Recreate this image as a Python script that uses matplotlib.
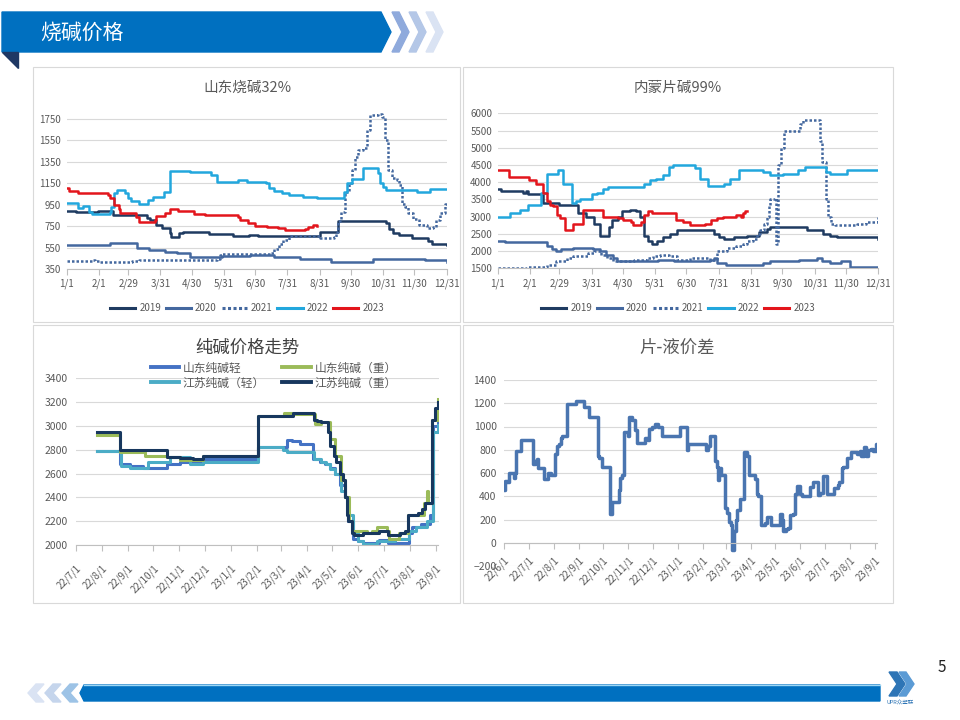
import numpy as np
import pandas as pd
import matplotlib
matplotlib.use("Agg")
import matplotlib.pyplot as plt
from matplotlib.patches import Polygon, Rectangle
from matplotlib.lines import Line2D

plt.rcParams['font.family'] = ['Noto Sans CJK SC', 'DejaVu Sans']

# ---- seasonal axis (day of year, leap-year calendar) ----
season_tick_days = [1, 32, 60, 91, 121, 152, 182, 213, 244, 274, 305, 335, 366]
season_tick_labels = ['1/1', '2/1', '2/29', '3/31', '4/30', '5/31', '6/30',
                      '7/31', '8/31', '9/30', '10/31', '11/30', '12/31']
years = ['2019', '2020', '2021', '2022', '2023']

# 山东烧碱32%  (day, price)
sd32_2019 = [(1, 894), (10, 878), (30, 878), (31, 894), (45, 854), (74, 854), (78, 830), (81, 807),
             (87, 761), (93, 730), (100, 683), (101, 646), (107, 646), (109, 683), (113, 693),
             (138, 674), (161, 661), (176, 670), (185, 658), (244, 700), (262, 801), (306, 801),
             (308, 780), (311, 720), (314, 689), (320, 667), (333, 636), (348, 610), (352, 580),
             (366, 575)]
sd32_2020 = [(1, 575), (43, 590), (69, 550), (80, 530), (95, 510), (107, 500), (119, 465),
             (150, 470), (177, 480), (200, 460), (225, 445), (245, 440), (255, 420), (290, 420),
             (295, 440), (330, 440), (345, 430), (366, 420)]
sd32_2021 = [(1, 425), (25, 435), (28, 425), (33, 412), (64, 425), (70, 432), (145, 440),
             (148, 480), (150, 490), (196, 495), (200, 540), (205, 580), (209, 620), (215, 660),
             (244, 640), (258, 650), (260, 700), (262, 800), (264, 885), (268, 1070), (272, 1150),
             (275, 1270), (278, 1400), (281, 1460), (286, 1480), (289, 1650), (292, 1790),
             (300, 1800), (304, 1770), (307, 1550), (310, 1270), (313, 1200), (318, 1180),
             (320, 1130), (323, 960), (326, 930), (329, 870), (334, 815), (339, 760), (347, 730),
             (353, 745), (356, 810), (360, 870), (364, 960), (366, 970)]
sd32_2022 = [(1, 969), (12, 916), (17, 938), (22, 885), (25, 863), (43, 885), (44, 932),
             (46, 1056), (49, 1087), (57, 1062), (60, 1010), (63, 985), (70, 957), (79, 994),
             (84, 1025), (94, 1072), (100, 1268), (119, 1252), (140, 1227), (145, 1165),
             (166, 1180), (174, 1165), (192, 1150), (195, 1109), (200, 1078), (208, 1062),
             (215, 1040), (228, 1025), (241, 1010), (267, 1072), (270, 1150), (275, 1187),
             (286, 1290), (300, 1243), (302, 1150), (305, 1118), (308, 1087), (337, 1072),
             (350, 1100), (366, 1100)]
sd32_2023 = [(1, 1103), (3, 1081), (12, 1062), (41, 1040), (43, 1010), (46, 947), (51, 910),
             (52, 876), (68, 838), (70, 786), (86, 807), (87, 848), (95, 876), (100, 910),
             (108, 894), (123, 863), (134, 854), (166, 838), (167, 807), (175, 776), (182, 754),
             (193, 745), (204, 730), (211, 714), (230, 723), (233, 745), (238, 761), (241, 754)]

# 内蒙片碱99%  (day, price)
nm99_2019 = [(1, 3800), (4, 3750), (25, 3700), (28, 3750), (30, 3650), (42, 3650), (44, 3400),
             (60, 3350), (78, 3100), (86, 3000), (93, 2800), (99, 2450), (108, 2700), (111, 2900),
             (116, 3000), (120, 3150), (128, 3200), (134, 3150), (137, 3000), (141, 2450),
             (145, 2300), (149, 2200), (154, 2300), (160, 2400), (166, 2500), (173, 2600),
             (208, 2500), (213, 2400), (218, 2350), (228, 2400), (240, 2450), (252, 2550),
             (259, 2650), (262, 2700), (298, 2600), (313, 2500), (320, 2450), (326, 2400),
             (366, 2350)]
nm99_2020 = [(1, 2300), (8, 2250), (45, 2250), (48, 2150), (53, 2050), (57, 2000), (62, 2050),
             (73, 2100), (92, 2050), (99, 2000), (105, 1900), (112, 1800), (115, 1700),
             (150, 1700), (155, 1750), (170, 1700), (205, 1750), (208, 1800), (211, 1650),
             (220, 1600), (255, 1650), (262, 1700), (290, 1750), (307, 1800), (312, 1700),
             (320, 1650), (330, 1700), (339, 1550), (366, 1500)]
nm99_2021 = [(1, 1500), (29, 1550), (48, 1600), (57, 1700), (67, 1800), (73, 1850), (88, 1950),
             (93, 2000), (100, 1900), (106, 1800), (112, 1700), (132, 1750), (144, 1800),
             (150, 1850), (157, 1900), (165, 1850), (173, 1750), (185, 1800), (205, 1750),
             (211, 2000), (221, 2100), (230, 2150), (236, 2200), (240, 2300), (246, 2350),
             (250, 2500), (253, 2600), (256, 2800), (259, 3000), (261, 3300), (262, 3500),
             (267, 3550), (268, 2200), (270, 4500), (273, 5000), (276, 5500), (288, 5500),
             (291, 5700), (294, 5800), (308, 5800), (310, 5200), (312, 4600), (316, 3500),
             (318, 3000), (321, 2800), (324, 2750), (342, 2750), (346, 2800), (354, 2850),
             (366, 3000)]
nm99_2022 = [(1, 3000), (13, 3100), (22, 3200), (30, 3350), (43, 3700), (48, 4250), (59, 4350),
             (64, 3950), (72, 3400), (76, 3450), (80, 3500), (91, 3650), (96, 3700), (102, 3800),
             (107, 3850), (141, 3950), (147, 4050), (153, 4100), (160, 4200), (165, 4450),
             (169, 4500), (190, 4400), (195, 4100), (203, 3900), (218, 3950), (224, 4100),
             (232, 4350), (255, 4300), (262, 4200), (275, 4250), (289, 4350), (296, 4450),
             (316, 4300), (320, 4250), (336, 4350), (366, 4350)]
nm99_2023 = [(1, 4350), (12, 4150), (31, 4050), (38, 3950), (44, 3700), (48, 3450), (51, 3350),
             (54, 3300), (58, 3050), (61, 2950), (66, 2600), (73, 2800), (83, 3200), (102, 3000),
             (116, 2950), (121, 2900), (129, 2850), (131, 2750), (138, 2850), (141, 3050),
             (145, 3150), (149, 3100), (172, 2900), (179, 2850), (185, 2750), (200, 2800),
             (206, 2900), (211, 2950), (217, 3000), (230, 3050), (234, 3000), (236, 3100),
             (238, 3150), (240, 3150)]

# 纯碱价格走势  (days since 2022-07-01, price)
soda_start = '2022-07-01'
soda_names = ['山东纯碱轻', '江苏纯碱（轻）', '山东纯碱（重）', '江苏纯碱（重）']
sd_light = [(25, 2790), (53, 2680), (64, 2660), (80, 2650), (108, 2680), (124, 2700), (151, 2720),
            (216, 2820), (250, 2880), (256, 2870), (266, 2850), (281, 2720), (289, 2700),
            (295, 2680), (301, 2650), (307, 2600), (313, 2500), (319, 2400), (323, 2200),
            (329, 2050), (335, 2030), (341, 2020), (359, 2040), (370, 2020), (395, 2100),
            (399, 2150), (409, 2180), (420, 2250), (424, 3000), (429, 3030), (430, 3030)]
js_light = [(25, 2790), (54, 2660), (64, 2650), (86, 2700), (112, 2740), (135, 2680), (151, 2700),
            (216, 2820), (246, 2800), (250, 2780), (282, 2720), (291, 2700), (297, 2680),
            (301, 2640), (307, 2600), (315, 2450), (319, 2400), (323, 2250), (329, 2100),
            (335, 2030), (341, 2010), (357, 2030), (378, 2050), (395, 2120), (403, 2150),
            (416, 2200), (424, 2950), (429, 3010), (430, 3010)]
sd_heavy = [(25, 2920), (53, 2780), (82, 2750), (108, 2740), (124, 2710), (151, 2750), (216, 3080),
            (247, 3110), (257, 3100), (284, 3020), (291, 3030), (301, 2890), (307, 2750),
            (315, 2550), (319, 2400), (324, 2200), (328, 2120), (345, 2100), (351, 2120),
            (357, 2150), (369, 2120), (371, 2050), (383, 2100), (394, 2250), (413, 2350),
            (416, 2450), (418, 2350), (422, 3050), (429, 3230), (430, 3230)]
js_heavy = [(25, 2950), (53, 2800), (108, 2740), (124, 2730), (139, 2720), (151, 2750), (216, 3080),
            (258, 3110), (282, 3050), (286, 3040), (291, 3030), (299, 2950), (301, 2830),
            (306, 2750), (309, 2700), (313, 2600), (317, 2550), (319, 2400), (321, 2250),
            (323, 2200), (327, 2100), (330, 2080), (341, 2100), (359, 2120), (370, 2080),
            (384, 2100), (390, 2120), (394, 2250), (406, 2270), (410, 2300), (414, 2350),
            (422, 3050), (426, 3150), (429, 3200), (430, 3200)]

# 片-液价差  (days since 2022-06-01, spread)
spread_start = '2022-06-01'
spread = [(0, 450), (1, 530), (3, 520), (6, 600), (12, 560), (13, 600), (14, 790), (20, 880),
          (35, 680), (38, 700), (40, 720), (42, 640), (49, 550), (54, 600), (57, 580), (63, 760),
          (65, 830), (67, 850), (70, 900), (71, 920), (77, 1190), (89, 1220), (98, 1170),
          (105, 1080), (115, 750), (117, 730), (121, 650), (130, 250), (133, 350), (141, 450),
          (143, 560), (145, 580), (148, 950), (152, 920), (154, 1080), (158, 1060), (161, 970),
          (164, 860), (173, 900), (177, 880), (179, 980), (182, 1000), (186, 1020), (190, 1000),
          (195, 920), (217, 1000), (225, 800), (227, 850), (249, 800), (251, 830), (253, 900),
          (254, 920), (260, 700), (262, 650), (263, 540), (265, 640), (267, 580), (270, 580),
          (272, 300), (275, 260), (277, 180), (279, 150), (281, -60), (283, 100), (286, 200),
          (287, 280), (291, 380), (296, 780), (299, 750), (302, 580), (309, 550), (312, 420),
          (313, 400), (316, 150), (322, 170), (324, 220), (329, 150), (340, 250), (342, 200),
          (344, 100), (347, 120), (350, 130), (352, 240), (356, 250), (358, 420), (361, 490),
          (364, 420), (367, 400), (377, 480), (381, 520), (387, 410), (389, 430), (393, 570),
          (398, 420), (406, 470), (411, 500), (413, 520), (416, 640), (418, 650), (422, 730),
          (428, 780), (435, 760), (438, 790), (440, 750), (444, 820), (446, 750), (448, 800),
          (452, 810), (455, 790), (458, 850), (459, 850)]

# ---- styles ----
year_colors = ['#1F3B61', '#44689F', '#44689F', '#22A7DD', '#E3151C']
year_ls = ['-', '-', (0, (1, 0.8)), '-', '-']
soda_colors = ['#4472C4', '#4BACC6', '#9BBB59', '#17375E']
GRAY = '#595959'
GRID = '#D9D9D9'

W, H = 960, 720
fig = plt.figure(figsize=(9.6, 7.2), dpi=100)


def box(x0, y0, x1, y1):
    return [x0 / W, 1 - y1 / H, (x1 - x0) / W, (y1 - y0) / H]


def fpos(x, y):
    return (x / W, 1 - y / H)


# background: banner, footer, panel frames
bg = fig.add_axes([0, 0, 1, 1])
bg.set_xlim(0, W)
bg.set_ylim(H, 0)
bg.axis('off')
bg.add_patch(Polygon([(2, 12), (381, 12), (391, 32), (381, 52), (2, 52)], color='#0070C0'))
bg.add_patch(Polygon([(2, 52), (18, 52), (18, 68)], color='#1F3864'))
for x0, c in zip([392, 409, 426], ['#8FAADC', '#B4C7E7', '#DAE3F3']):
    bg.add_patch(Polygon([(x0, 12), (x0 + 7, 12), (x0 + 17, 32), (x0 + 7, 52), (x0, 52), (x0 + 10, 32)], color=c))
bg.text(40, 33, '烧碱价格', color='white', fontsize=15, va='center', ha='left')

for x0, c in zip([28, 45, 62], ['#DAE3F3', '#C5D5EC', '#9DC3E6']):
    bg.add_patch(Polygon([(x0 + 8, 684), (x0 + 16, 684), (x0 + 8, 693), (x0 + 16, 702), (x0 + 8, 702), (x0, 693)], color=c))
bg.add_patch(Polygon([(84, 685), (880, 685), (880, 701), (84, 701), (80, 693)], color='#0070C0'))
bg.plot([84, 880], [685, 685], color='#9DD7F5', lw=1)
bg.add_patch(Polygon([(889, 672), (897, 672), (905, 684), (897, 696), (889, 696), (897, 684)], color='#2E75B6'))
bg.add_patch(Polygon([(899, 672), (906, 672), (914, 684), (906, 696), (899, 696), (907, 684)], color='#5B9BD5'))
bg.text(900, 703, 'UPR众塑联', fontsize=4, color='#2E75B6', ha='center', va='center')
bg.text(942, 668, '5', fontsize=11, color='#222222', ha='center', va='center')

for (x0, y0, x1, y1) in [(33, 67, 460, 322), (463, 67, 893, 322), (33, 325, 460, 603), (463, 325, 893, 603)]:
    bg.add_patch(Rectangle((x0, y0), x1 - x0, y1 - y0, fill=False, ec=GRID, lw=0.8))


def style(ax, yticks, fs, ypad):
    ax.patch.set_alpha(0)
    ax.set_yticks(yticks)
    ax.grid(axis='y', color=GRID, lw=0.8)
    ax.set_axisbelow(True)
    for s in ['top', 'right', 'left']:
        ax.spines[s].set_visible(False)
    ax.spines['bottom'].set_color('#BFBFBF')
    ax.tick_params(axis='y', length=0, labelsize=fs, labelcolor=GRAY, pad=ypad)
    ax.tick_params(axis='x', color='#BFBFBF', length=4, labelsize=fs, labelcolor=GRAY)


def seasonal(rect, series, yl, yticks, title, tx, legend_x):
    ax = fig.add_axes(box(*rect))
    for s, c, ls in zip(series, year_colors, year_ls):
        d, v = zip(*s)
        ax.plot(d, v, color=c, ls=ls, lw=1.8, drawstyle='steps-post')
    ax.set_xlim(1, 366)
    ax.set_ylim(*yl)
    style(ax, yticks, 7, 4)
    ax.set_xticks(season_tick_days)
    ax.set_xticklabels(season_tick_labels)
    ax.tick_params(axis='x', pad=3)
    fig.text(*fpos(tx, 88), title, fontsize=10.5, color=GRAY, ha='center', va='center')
    handles = [Line2D([], [], color=c, ls=ls, lw=2.2) for c, ls in zip(year_colors, year_ls)]
    leg = ax.legend(handles, years, loc='center', bbox_to_anchor=fpos(legend_x, 308),
                    bbox_transform=fig.transFigure, ncol=5, frameon=False, fontsize=7,
                    handlelength=2.6, handletextpad=0.4, columnspacing=0.5)
    for t in leg.get_texts():
        t.set_color(GRAY)
    return ax


seasonal((66.7, 112.6, 446.7, 269), [sd32_2019, sd32_2020, sd32_2021, sd32_2022, sd32_2023],
         (350, 1810), list(range(350, 1751, 200)), '山东烧碱32%', 247, 247)
seasonal((497.7, 113.3, 878.3, 268.3), [nm99_2019, nm99_2020, nm99_2021, nm99_2022, nm99_2023],
         (1500, 6000), list(range(1500, 6001, 500)), '内蒙片碱99%', 678, 678)

# 纯碱价格走势
t0 = pd.Timestamp(soda_start)
ax3 = fig.add_axes(box(75.7, 378.3, 438.5, 545))
for s, c in zip([sd_light, js_light, sd_heavy, js_heavy], soda_colors):
    d, v = zip(*s)
    x = (t0 + pd.to_timedelta(list(d), unit='D')).to_numpy()
    ax3.plot(x, v, color=c, lw=2.2, drawstyle='steps-post')
ax3.set_xlim(t0, t0 + pd.Timedelta(days=430))
ax3.set_ylim(2000, 3400)
style(ax3, list(range(2000, 3401, 200)), 7.5, 6)
months3 = pd.date_range(soda_start, '2023-09-01', freq='MS')
ax3.set_xticks(months3.to_numpy())
ax3.set_xticklabels([f'{m.year % 100}/{m.month}/1' for m in months3], rotation=45,
                    ha='right', rotation_mode='anchor')
ax3.tick_params(axis='x', labelsize=7, pad=9)
fig.text(*fpos(247, 348), '纯碱价格走势', fontsize=12.5, color='#404040', ha='center', va='center')
handles = [Line2D([], [], color=c, lw=2.8) for c in soda_colors]
leg = ax3.legend(handles, soda_names, loc='upper left', bbox_to_anchor=fpos(140, 351),
                 bbox_transform=fig.transFigure, ncol=2, frameon=False, fontsize=8.5,
                 handlelength=2.4, handletextpad=0.3, columnspacing=1.5, labelspacing=0.15)
for t in leg.get_texts():
    t.set_color(GRAY)

# 片-液价差
t1 = pd.Timestamp(spread_start)
ax4 = fig.add_axes(box(504.3, 380, 876.6, 566))
d, v = zip(*spread)
x = (t1 + pd.to_timedelta(list(d), unit='D')).to_numpy()
ax4.plot(x, v, color='#4A75B0', lw=2.5, drawstyle='steps-post')
ax4.set_xlim(t1, t1 + pd.Timedelta(days=459))
ax4.set_ylim(-200, 1400)
style(ax4, list(range(-200, 1401, 200)), 7.5, 5.5)
ax4.spines['bottom'].set_position(('data', 0))
months4 = pd.date_range(spread_start, '2023-09-01', freq='MS')
ax4.set_xticks(months4.to_numpy())
ax4.set_xticklabels([f'{m.year % 100}/{m.month}/1' for m in months4], rotation=45,
                    ha='right', rotation_mode='anchor')
ax4.tick_params(axis='x', labelsize=7, pad=5)
fig.text(*fpos(677, 348), '片-液价差', fontsize=12.5, color=GRAY, ha='center', va='center')

fig.savefig('out.png', dpi=100)
